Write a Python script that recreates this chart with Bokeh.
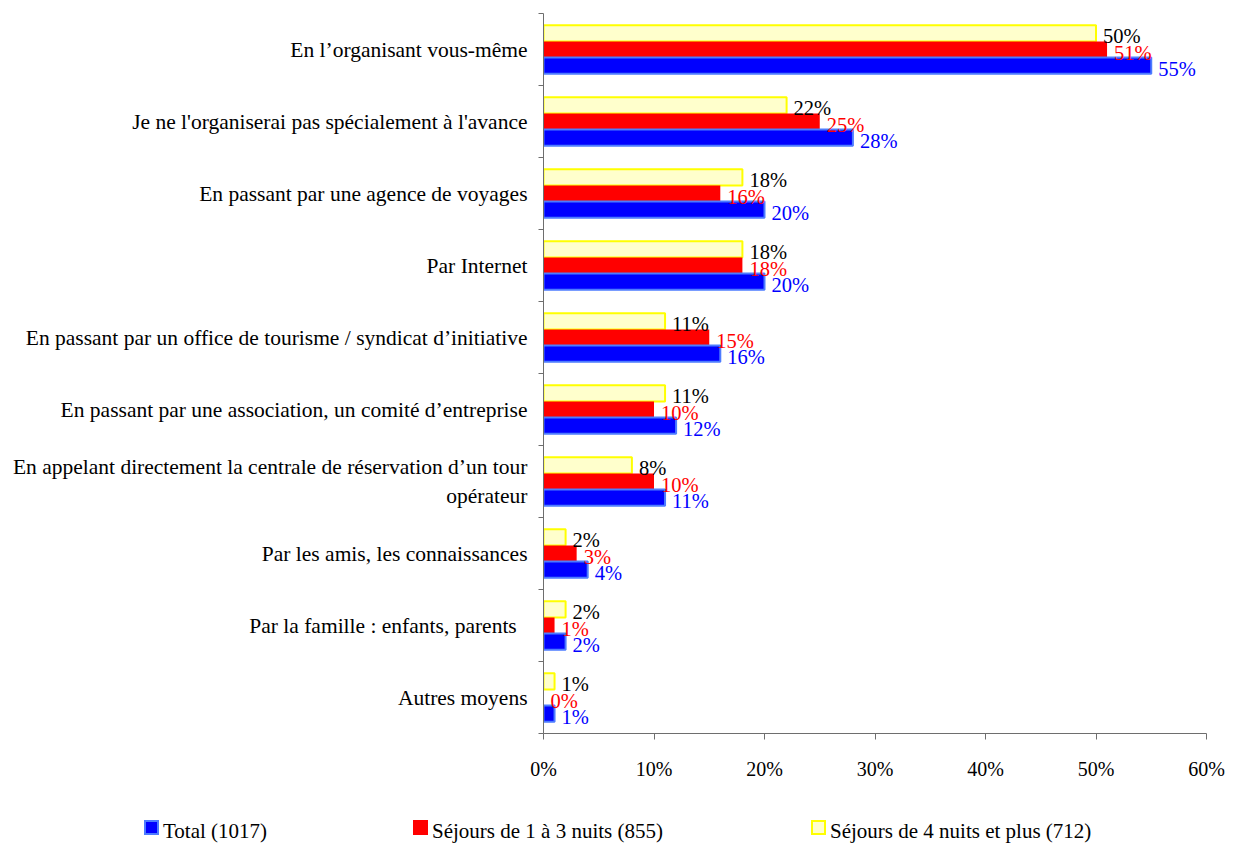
from bokeh.plotting import figure
from bokeh.layouts import column
from bokeh.models import FixedTicker, ColumnDataSource, Div
from bokeh.core.properties import value
from bokeh.embed import file_html
from bokeh.resources import INLINE

categories = [
    "En l’organisant vous-même",
    "Je ne l'organiserai pas spécialement à l'avance",
    "En passant par une agence de voyages",
    "Par Internet",
    "En passant par un office de tourisme / syndicat d’initiative",
    "En passant par une association, un comité d’entreprise",
    "En appelant directement la centrale de réservation d’un tour\nopérateur",
    "Par les amis, les connaissances",
    "Par la famille   : enfants, parents",
    "Autres moyens",
]
total = [55, 28, 20, 20, 16, 12, 11, 4, 2, 1]
nuits_1_3 = [51, 25, 16, 18, 15, 10, 10, 3, 1, 0]
nuits_4_plus = [50, 22, 18, 18, 11, 11, 8, 2, 2, 1]
series_names = ["Total (1017)", "Séjours de 1 à 3 nuits (855)", "Séjours de 4 nuits et plus (712)"]
x_ticks = [0, 10, 20, 30, 40, 50, 60]

FONT = "Liberation Serif"
AXIS_COLOR = "#6e6e6e"
BLUE_FILL, BLUE_LINE = "#0000FF", "#4D7CFF"
RED_FILL = "#FF0000"
YEL_FILL, YEL_LINE = "#FFFFCC", "#FFFF00"
W = 1230
n = len(categories)
centers = [n - 0.5 - i for i in range(n)]
bh = 0.225

p = figure(width=W, height=800, x_range=(0, 60), y_range=(0, n),
           output_backend="svg", toolbar_location=None,
           min_border_left=543, min_border_right=W - 1206, min_border_top=13, min_border_bottom=67)
p.outline_line_color = None
p.xgrid.visible = False
p.ygrid.visible = False

src = ColumnDataSource(dict(
    yc=centers,
    yy=[c + bh for c in centers],
    yb=[c - bh for c in centers],
    total=total, court=nuits_1_3, long=nuits_4_plus,
    lt=[f"{v}%" for v in total],
    lc=[f"{v}%" for v in nuits_1_3],
    ll=[f"{v}%" for v in nuits_4_plus],
))

p.hbar(y="yy", right="long", left=0, height=bh, source=src,
       fill_color=YEL_FILL, line_color=YEL_LINE, line_width=2)
p.hbar(y="yc", right="court", left=0, height=bh, source=src,
       fill_color=RED_FILL, line_color=None)
p.hbar(y="yb", right="total", left=0, height=bh, source=src,
       fill_color=BLUE_FILL, line_color=BLUE_LINE, line_width=2)

common = dict(text_font=value(FONT), text_font_size="20.5px", text_baseline="middle",
              text_align="left", x_offset=7, y_offset=3, source=src)
p.text(x="long", y="yy", text="ll", text_color="#000000", **common)
p.text(x="court", y="yc", text="lc", text_color="#FF0000", **common)
p.text(x="total", y="yb", text="lt", text_color="#0000FF", **common)

# x axis
xa = p.xaxis[0]
xa.ticker = FixedTicker(ticks=x_ticks)
xa.major_label_overrides = {t: f"{t}%" for t in x_ticks}
xa.major_label_text_font = FONT
xa.major_label_text_font_size = "20px"
xa.major_label_text_color = "#000000"
xa.axis_line_color = AXIS_COLOR
xa.major_tick_line_color = AXIS_COLOR
xa.major_tick_in = 0
xa.major_tick_out = 6
xa.minor_tick_line_color = None
xa.major_label_standoff = 18

# y axis: labels at category centres, tick marks at category boundaries
ya = p.yaxis[0]
ya.ticker = FixedTicker(ticks=centers, minor_ticks=list(range(n + 1)))
ya.major_label_overrides = {c: name for c, name in zip(centers, categories)}
ya.major_label_text_font = FONT
ya.major_label_text_font_size = "21.5px"
ya.major_label_text_color = "#000000"
ya.axis_line_color = AXIS_COLOR
ya.major_tick_line_color = None
ya.major_tick_in = 0
ya.major_tick_out = 0
ya.minor_tick_line_color = AXIS_COLOR
ya.minor_tick_in = 0
ya.minor_tick_out = 5
ya.major_label_standoff = 11

# legend strip below the chart
swatches = [(BLUE_FILL, BLUE_LINE, 144), (RED_FILL, RED_FILL, 413), (YEL_FILL, YEL_LINE, 811)]
parts = []
for (fill, line, left), name in zip(swatches, series_names):
    parts.append(
        f'<span style="position:absolute;display:block;box-sizing:border-box;left:{left}px;'
        f'top:20px;width:15px;height:15px;background:{fill};border:2px solid {line};"></span>'
        f'<span style="position:absolute;left:{left + 19}px;top:19px;line-height:24px;'
        f'white-space:nowrap;">{name}</span>'
    )
legend_html = (
    f'<div style="position:relative;width:{W}px;height:45px;font-family:\'{FONT}\';'
    f'font-size:21px;color:#000000;">' + "".join(parts) + '</div>'
)
leg = Div(text=legend_html, width=W, height=45, margin=0)

open("out.html", "w").write(file_html(column(p, leg, spacing=0), INLINE))
